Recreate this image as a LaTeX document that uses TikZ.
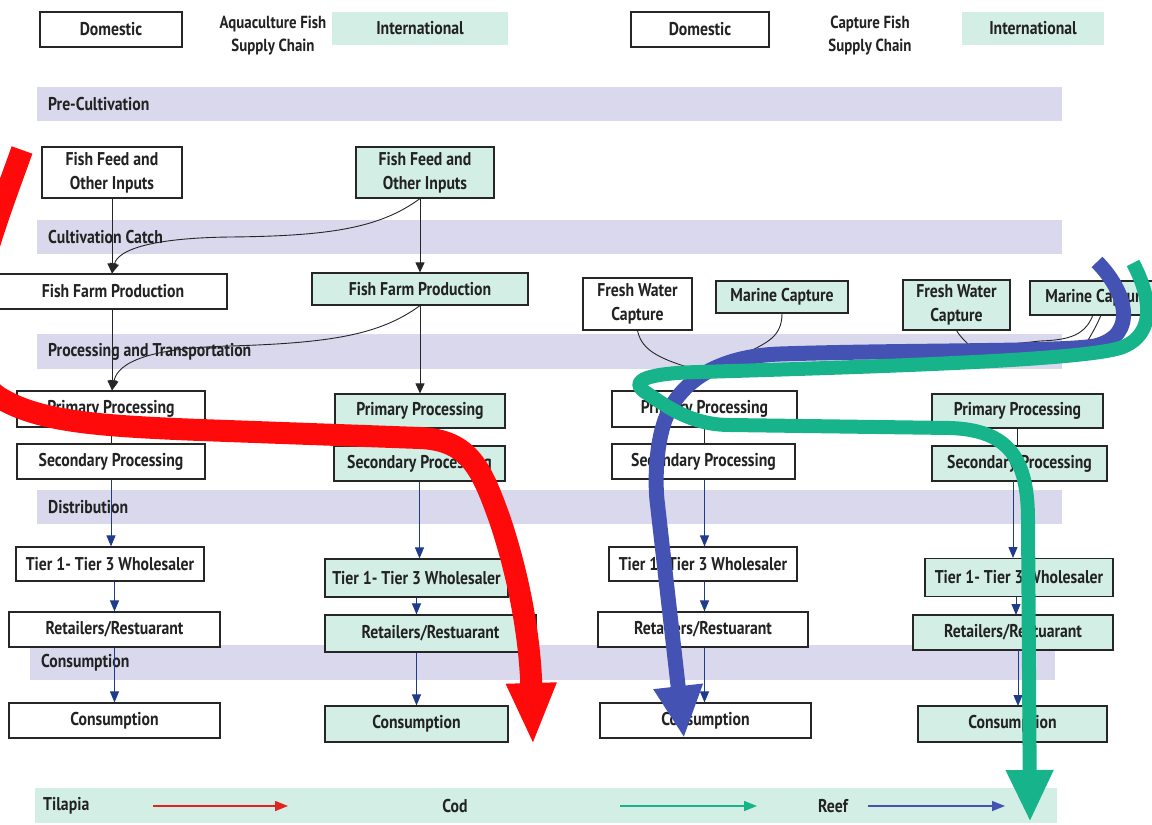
\documentclass[tikz,border=0pt]{standalone}
\usepackage{fontspec}
\setmainfont{PT Sans}[FakeStretch=0.85]
\usetikzlibrary{arrows.meta}
\definecolor{lav}{HTML}{D9D8EC}
\definecolor{mint}{HTML}{D3EEE5}
\definecolor{txt}{HTML}{222222}
\definecolor{navy}{HTML}{1F3C8C}
\definecolor{redf}{HTML}{FF0A0A}
\definecolor{bluef}{HTML}{4453B3}
\definecolor{tealf}{HTML}{17B38B}
\definecolor{legred}{HTML}{E0241F}
\begin{document}
\begin{tikzpicture}[x=1pt,y=-1pt,
  font=\fontsize{18.5}{24}\selectfont\bfseries, text=txt,
  box/.style={draw=black!85, line width=1.1pt, inner sep=0pt, align=center},
  dom/.style={box, fill=white},
  intl/.style={box, fill=mint},
  hintl/.style={fill=mint, inner sep=0pt},
  htitle/.style={align=center, inner sep=0pt, font=\fontsize{17.5}{23}\selectfont\bfseries},
  bandtext/.style={anchor=west, inner sep=0pt},
  conn/.style={draw=black!85, line width=0.9pt, -{Triangle[length=10pt,width=9pt]}},
  nconn/.style={draw=navy, line width=1pt, -{Triangle[length=11pt,width=9pt]}},
  plainc/.style={draw=black!85, line width=0.9pt},
  flow/.style={line cap=butt, line join=round},
  legarrow/.style={line width=1.4pt, -{Triangle[length=13pt,width=10pt]}}
]
\useasboundingbox (0,0) rectangle (1152,825);
\begin{scope}
\clip (0,0) rectangle (1152,825);

% ---------- header ----------
\node[dom, minimum width=142pt, minimum height=35pt] (hd1) at (111,29.5) {Domestic};
\node[htitle] (ht1) at (273,36) {Aquaculture Fish\\Supply Chain};
\node[hintl, minimum width=176pt, minimum height=33pt] (hi1) at (420,28.5) {International};
\node[dom, minimum width=138pt, minimum height=35pt] (hd2) at (700,29.5) {Domestic};
\node[htitle] (ht2) at (870,36) {Capture Fish\\Supply Chain};
\node[hintl, minimum width=142pt, minimum height=33pt] (hi2) at (1033,28.5) {International};

% ---------- bands ----------
\fill[lav] (37,87) rectangle (1062,121);
\fill[lav] (37,220) rectangle (1062,254);
\fill[lav] (37,334) rectangle (1062,369);
\fill[lav] (37,490) rectangle (1062,524);
\fill[lav] (30,645) rectangle (1055,680);
\fill[mint] (35,788) rectangle (1057,823);
\node[bandtext] (b1) at (48,104) {Pre-Cultivation};
\node[bandtext] (b2) at (48,237) {Cultivation Catch};
\node[bandtext] (b3) at (48,352) {Processing and Transportation};
\node[bandtext] (b4) at (48,507) {Distribution};
\node[bandtext] (b5) at (41,663) {Consumption};

% ---------- aquaculture boxes ----------
\node[dom, minimum width=140pt, minimum height=51pt] (ffl) at (112,172.5) {Fish Feed and\\Other Inputs};
\node[intl, minimum width=138pt, minimum height=51pt] (ffr) at (425,172.5) {Fish Feed and\\Other Inputs};
\node[dom, minimum width=228pt, minimum height=35pt] (farml) at (113,291.5) {Fish Farm Production};
\node[intl, minimum width=216pt, minimum height=32pt] (farmr) at (420,289) {Fish Farm Production};
\node[dom, minimum width=188pt, minimum height=36pt] (pl) at (111,409) {Primary Processing};
\node[intl, minimum width=170pt, minimum height=34pt] (pr) at (420,411) {Primary Processing};
\node[dom, minimum width=188pt, minimum height=35pt] (sl) at (111,461.5) {Secondary Processing};
\node[intl, minimum width=171pt, minimum height=35pt] (sr) at (419.5,463.5) {Secondary Processing};
\node[dom, minimum width=188pt, minimum height=34pt] (tl) at (110,564) {Tier 1- Tier 3 Wholesaler};
\node[intl, minimum width=183pt, minimum height=38pt] (tr) at (416.5,578) {Tier 1- Tier 3 Wholesaler};
\node[dom, minimum width=211pt, minimum height=35pt] (rl) at (114.5,629.5) {Retailers/Restuarant};
\node[intl, minimum width=211pt, minimum height=37pt] (rr) at (430.5,633.5) {Retailers/Restuarant};
\node[dom, minimum width=211pt, minimum height=35pt] (cl) at (114.5,720.5) {Consumption};
\node[intl, minimum width=183pt, minimum height=36pt] (cr) at (416.5,724) {Consumption};

% ---------- capture boxes ----------
\node[dom, minimum width=109pt, minimum height=52pt] (fwd) at (637.5,304) {Fresh Water\\Capture};
\node[intl, minimum width=132pt, minimum height=32pt] (mcd) at (782,297) {Marine Capture};
\node[intl, minimum width=107pt, minimum height=50pt] (fwi) at (956.5,305) {Fresh Water\\Capture};
\node[intl, minimum width=134pt, minimum height=34pt] (mci) at (1097,298) {Marine Capture};
\node[dom, minimum width=185pt, minimum height=36pt] (pcd) at (704.5,409) {Primary Processing};
\node[intl, minimum width=171pt, minimum height=34pt] (pci) at (1017.5,411) {Primary Processing};
\node[dom, minimum width=183pt, minimum height=35pt] (scd) at (703.5,461.5) {Secondary Processing};
\node[intl, minimum width=175pt, minimum height=35pt] (sci) at (1019.5,463.5) {Secondary Processing};
\node[dom, minimum width=188pt, minimum height=34pt] (tcd) at (703,564) {Tier 1- Tier 3 Wholesaler};
\node[intl, minimum width=188pt, minimum height=38pt] (tci) at (1019,577.5) {Tier 1- Tier 3 Wholesaler};
\node[dom, minimum width=210pt, minimum height=35pt] (rcd) at (703,629.5) {Retailers/Restuarant};
\node[intl, minimum width=200pt, minimum height=35pt] (rci) at (1013,632.5) {Retailers/Restuarant};
\node[dom, minimum width=211pt, minimum height=35pt] (ccd) at (705.5,720.5) {Consumption};
\node[intl, minimum width=189pt, minimum height=36pt] (cci) at (1012.5,724) {Consumption};

% ---------- thin connectors: aquaculture ----------
\draw[conn] (ffl.south) -- (ffl.south |- farml.north);
\draw[conn] (ffr.south -| farmr.north) -- (farmr.north);
\draw[conn] (ffr.south -| farmr.north) .. controls (380,228) and (330,236) .. (230,237) .. controls (150,238) and (118,250) .. (ffl.south |- farml.north);
\draw[conn] (ffl.south |- farml.south) -- (ffl.south |- pl.north);
\draw[conn] (farmr.south) -- (farmr.south |- pr.north);
\draw[conn] (farmr.south) .. controls (380,335) and (330,343) .. (230,346) .. controls (150,348) and (118,362) .. (ffl.south |- pl.north);
\draw[plainc] (pl.south) -- (sl.north);
\draw[plainc] (pr.south) -- (pr.south |- sr.north);
\draw[nconn] (sl.south) -- (sl.south |- tl.north);
\draw[nconn] (tl.south -| rl.north) -- (rl.north);
\draw[nconn] (rl.south) -- (cl.north);
\draw[nconn] (sr.south) -- (sr.south |- tr.north);
\draw[nconn] (tr.south) -- (tr.south |- rr.north);
\draw[nconn] (tr.south |- rr.south) -- (tr.south |- cr.north);

% ---------- thin connectors: capture (ends hidden under the flows) ----------
\coordinate (cj1) at (704,372);
\coordinate (cj2) at (745,354);
\coordinate (cj3) at (988,362);
\coordinate (cj4) at (930,353);
\coordinate (cj5) at (1078,356);
\draw[plainc] (fwd.south) .. controls (642,352) and (662,360) .. (cj1);
\draw[plainc] (mcd.south) .. controls (782,338) and (765,343) .. (cj2);
\draw[plainc] (fwi.south) .. controls (962,340) and (975,350) .. (cj3);
\draw[plainc] (1093,315) .. controls (1085,335) and (1070,340) .. (1040,341) -- (cj4);
\draw[plainc] (1101,315) .. controls (1095,330) and (1085,345) .. (cj5);
\draw[plainc] (pcd.south) -- (pcd.south |- scd.north);
\draw[plainc] (pci.south) -- (pci.south |- sci.north);
\draw[nconn] (scd.south -| pcd.south) -- (pcd.south |- tcd.north);
\draw[nconn] (pcd.south |- tcd.south) -- (pcd.south |- rcd.north);
\draw[nconn] (pcd.south |- rcd.south) -- (pcd.south |- ccd.north);
\coordinate (ci0) at (1013,481);
\coordinate (ci00) at (1013,558);
\draw[nconn] (ci0) -- (ci00);
\coordinate (ci1) at (1016,597);
\coordinate (ci2) at (1016,615);
\draw[nconn] (ci1) -- (ci2);
\coordinate (ci3) at (1018,650);
\coordinate (ci4) at (1018,706);
\draw[nconn] (ci3) -- (ci4);

% ---------- thick flows ----------
\draw[flow, redf, line width=22pt, -{Triangle[length=62pt,width=46pt]}]
  (22,150) .. controls (-10,240) and (-60,360) .. (0,398)
  .. controls (40,422) and (100,426) .. (200,430) -- (420,438)
  .. controls (470,440) and (482,470) .. (500,520)
  .. controls (520,580) and (530,640) .. (533,745);
\draw[flow, bluef, line width=15pt, -{Triangle[length=52pt,width=46pt]}]
  (1097,262) .. controls (1125,290) and (1140,335) .. (1095,346)
  .. controls (1060,352) and (900,350) .. (780,354)
  .. controls (720,356) and (680,380) .. (665,420)
  .. controls (656,445) and (655,480) .. (657,500) -- (684,738);
\draw[flow, tealf, line width=14pt, -{Triangle[length=52pt,width=44pt]}]
  (1133,263) .. controls (1150,295) and (1158,335) .. (1120,348)
  .. controls (1080,360) and (900,366) .. (700,372)
  .. controls (650,373) and (628,380) .. (645,392)
  .. controls (665,405) and (690,425) .. (730,425) -- (950,428)
  .. controls (1010,430) and (1028,460) .. (1028,520) -- (1030,822);
\end{scope}

% ---------- legend ----------
\node[bandtext] (lt) at (43,806) {Tilapia};
\node[inner sep=0pt] (lc) at (455,806) {Cod};
\node[inner sep=0pt] (lr) at (833,806) {Reef};
\coordinate (la1) at (153,806);
\coordinate (la2) at (288,806);
\coordinate (lb1) at (620,806);
\coordinate (lb2) at (757,806);
\coordinate (lc1) at (868,806);
\coordinate (lc2) at (1005,806);
\draw[legarrow, legred] (la1) -- (la2);
\draw[legarrow, tealf] (lb1) -- (lb2);
\draw[legarrow, bluef] (lc1) -- (lc2);
\end{tikzpicture}
\end{document}
